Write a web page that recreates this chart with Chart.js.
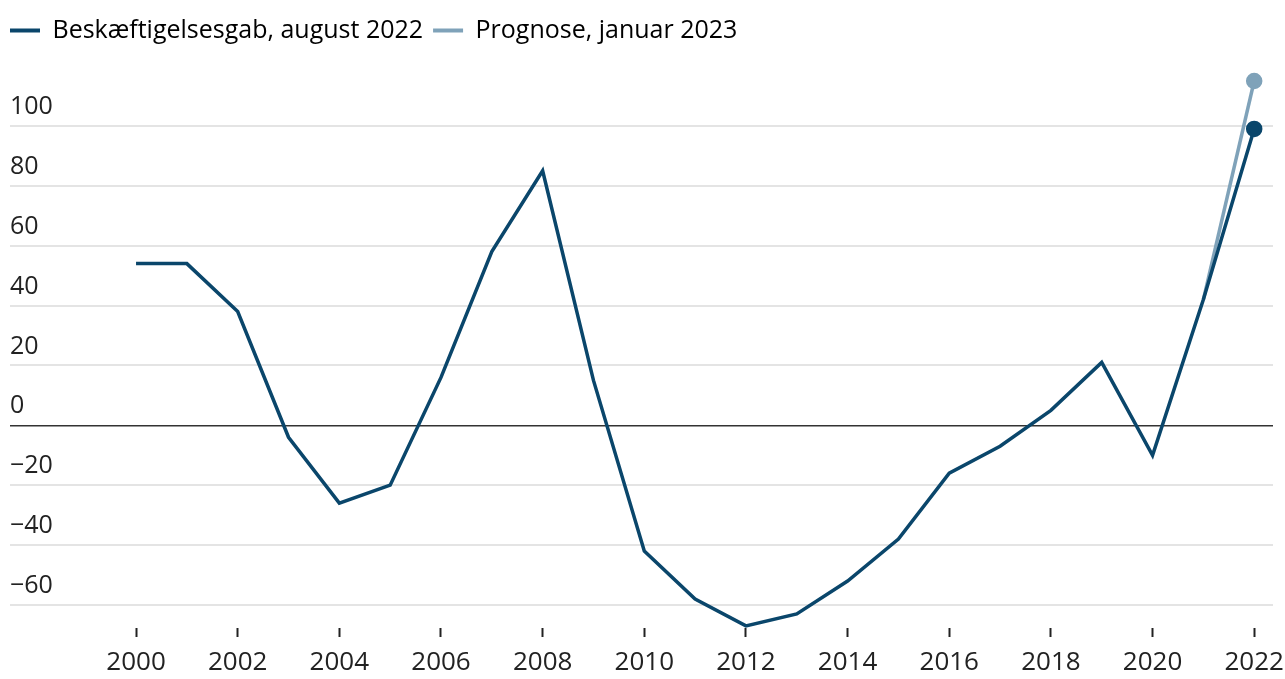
<!DOCTYPE html>
<html>
<head>
<meta charset="utf-8">
<script src="https://cdn.jsdelivr.net/npm/chart.js@4/dist/chart.umd.min.js"></script>
<style>
  html, body { margin: 0; padding: 0; background: #fff; }
  #wrap { width: 1285px; height: 679px; }
</style>
</head>
<body>
<div id="wrap"><canvas id="gapChart"></canvas></div>
<script>
// Beskæftigelsesgab (tusinde personer)
const years = [2000, 2001, 2002, 2003, 2004, 2005, 2006, 2007, 2008, 2009, 2010,
  2011, 2012, 2013, 2014, 2015, 2016, 2017, 2018, 2019, 2020, 2021, 2022];
const gapAug2022 = [54, 54, 38, -4, -26, -20, 16, 58, 85, 15, -42,
  -58, -67, -63, -52, -38, -16, -7, 5, 21, -10, 42, 99];
const forecastYears = [2021, 2022];
const forecastJan2023 = [42, 115];
const yTicks = [-60, -40, -20, 0, 20, 40, 60, 80, 100];
const xTicks = [2000, 2002, 2004, 2006, 2008, 2010, 2012, 2014, 2016, 2018, 2020, 2022];

const DARK = "#0a466b";
const LIGHT = "#7fa2b9";
const FONT = "'Open Sans', sans-serif";

const lastDot = (ctx) => ctx.dataIndex === ctx.dataset.data.length - 1 ? 6.5 : 0;

// extra room between legend and plot
const legendGap = {
  id: "legendGap",
  beforeInit(chart) {
    const fit = chart.legend.fit;
    chart.legend.fit = function () {
      fit.bind(chart.legend)();
      this.height += 22;
    };
  },
};

const ctx = document.getElementById("gapChart").getContext("2d");

new Chart(ctx, {
  type: "line",
  data: {
    datasets: [
      {
        label: "Beskæftigelsesgab, august 2022",
        data: years.map((y, i) => ({ x: y, y: gapAug2022[i] })),
        borderColor: DARK,
        backgroundColor: DARK,
        borderWidth: 3.5,
        pointRadius: lastDot,
        pointHoverRadius: lastDot,
        tension: 0,
        clip: false,
      },
      {
        label: "Prognose, januar 2023",
        data: forecastYears.map((y, i) => ({ x: y, y: forecastJan2023[i] })),
        borderColor: LIGHT,
        backgroundColor: LIGHT,
        borderWidth: 3.5,
        pointRadius: lastDot,
        pointHoverRadius: lastDot,
        tension: 0,
        clip: false,
      },
    ],
  },
  plugins: [legendGap],
  options: {
    responsive: true,
    maintainAspectRatio: false,
    animation: false,
    layout: { padding: { left: 0, right: 12, top: 8, bottom: 2 } },
    plugins: {
      tooltip: { enabled: false },
      legend: {
        position: "top",
        align: "start",
        labels: {
          font: { family: FONT, size: 25 },
          color: "#222",
          boxWidth: 30,
          boxHeight: 4,
          padding: 10,
          generateLabels: (chart) => chart.data.datasets.map((ds, i) => ({
            text: ds.label,
            fillStyle: ds.borderColor,
            strokeStyle: ds.borderColor,
            lineWidth: 0,
            datasetIndex: i,
          })),
        },
      },
    },
    scales: {
      x: {
        type: "linear",
        min: 1997.52,
        max: 2022.37,
        afterBuildTicks: (scale) => { scale.ticks = xTicks.map(v => ({ value: v })); },
        afterFit: (scale) => {
          scale.height = 49;
          scale.paddingLeft = 0;
          scale.paddingRight = 0;
        },
        grid: {
          drawOnChartArea: false,
          drawTicks: true,
          tickLength: 9,
          tickColor: "#222",
          tickWidth: 2,
        },
        border: { display: false },
        ticks: {
          font: { family: FONT, size: 26 },
          color: "#222",
          padding: 10,
          maxRotation: 0,
          autoSkip: false,
          callback: (v) => String(v),
        },
      },
      y: {
        min: -67.7,
        max: 117,
        afterBuildTicks: (scale) => { scale.ticks = yTicks.map(v => ({ value: v })); },
        afterFit: (scale) => { scale.width = 10; },
        grid: {
          drawTicks: false,
          color: (c) => c.tick && c.tick.value === 0 ? "#333" : "#e4e4e4",
          lineWidth: (c) => c.tick && c.tick.value === 0 ? 1.5 : 2,
        },
        border: { display: false },
        ticks: {
          mirror: true,
          padding: 0,
          labelOffset: -19,
          font: { family: FONT, size: 25 },
          color: "#222",
          callback: (v) => String(v).replace("-", "\u2212"),
        },
      },
    },
  },
});
</script>
</body>
</html>
